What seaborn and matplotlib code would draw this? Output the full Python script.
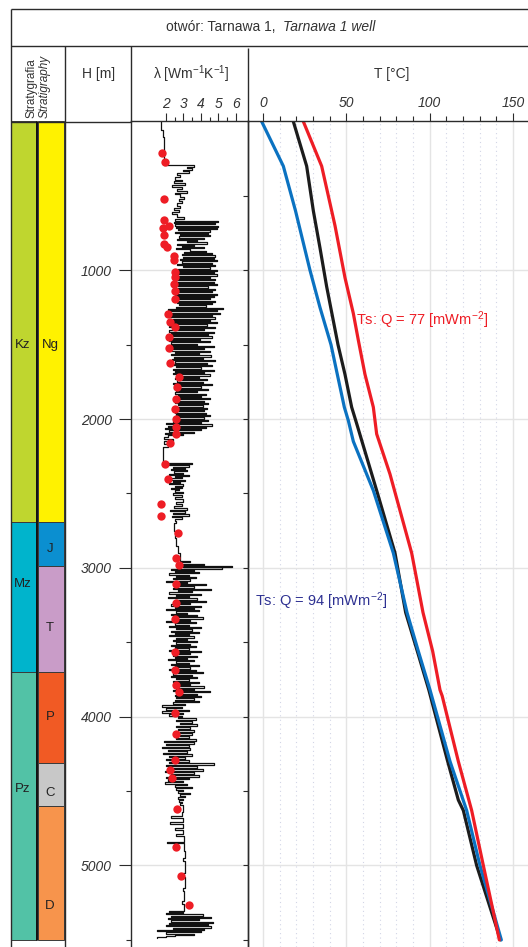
#!/usr/bin/env python3
"""Tarnawa 1 well: stratigraphy, thermal conductivity log and temperature profiles."""

import matplotlib

matplotlib.use("Agg")
import matplotlib.pyplot as plt
import seaborn as sns

# --- stratigraphy (depth, m) ---
era_names = ["Kz", "Mz", "Pz"]
era_top = [0, 2690, 3700]
era_base = [2690, 3700, 5500]
era_label_depth = [1500, 3105, 4485]

period_names = ["Ng", "J", "T", "P", "C", "D"]
period_top = [0, 2690, 2990, 3700, 4310, 4600]
period_base = [2690, 2990, 3700, 4310, 4600, 5500]
period_label_depth = [1500, 2870, 3405, 4005, 4510, 5270]

era_colors = ["#bfd62f", "#00b4cc", "#52c2a6"]
period_colors = ["#fff200", "#0b8fd0", "#c99cc8", "#f15a24", "#c8c8c8", "#f7944c"]

# --- thermal conductivity log, lambda [W/mK] vs depth [m] ---
log_depth = (
    [0, 60, 105, 295, 305, 315, 325, 335, 345, 360, 375, 390, 400, 415, 425, 440,
     455, 465, 478, 490, 505, 520, 535, 550, 565, 580, 595, 610, 625, 640, 655]
    + list(range(668, 2101, 8))
    + [2108, 2120, 2135, 2150, 2170, 2185, 2230, 2270]
    + list(range(2295, 2496, 8))
    + [2510, 2525, 2540, 2555, 2570, 2585, 2600, 2610, 2620, 2630, 2640, 2650, 2660,
       2670, 2685, 2700, 2750, 2800, 2850, 2900, 2940, 2955, 2963, 2971, 2979, 2985,
       2991, 2997]
    + list(range(3005, 3894, 8))
    + [3901, 3912, 3922, 3932, 3942, 3952, 3962, 3972, 3982, 3992]
    + list(range(4002, 4443, 10))
    + list(range(4452, 4593, 10))
    + [4605, 4640, 4670, 4680, 4710, 4718, 4750, 4760, 4790, 4800, 4840, 4848, 4900,
       4950, 4970, 5050, 5080, 5150, 5170, 5240, 5260]
    + list(range(5305, 5490, 8))
)
log_lam = [
    # 0-655
    1.73, 1.84, 1.88, 3.58, 3.2, 3.49, 3.0, 3.3, 2.63, 2.82, 2.54, 2.92, 2.44, 3.11,
    2.35, 2.9, 2.63, 3.2, 2.54, 2.82, 3.01, 2.73, 2.92, 2.63, 2.82, 2.44, 2.73, 2.35,
    2.63, 3.01, 2.5,
    # 668-860
    5.0, 2.45, 4.81, 2.5, 5.0, 2.6, 4.9, 2.7, 4.53, 2.54, 4.4, 2.8, 4.53, 2.73, 4.15,
    2.63, 3.77, 3.2, 4.34, 2.63, 3.6, 2.9, 4.2, 2.6, 3.4,
    # 868-996
    4.3, 3.01, 4.62, 2.9, 4.81, 3.0, 4.72, 2.82, 4.9, 2.9, 4.62, 2.63, 4.81, 3.0, 4.53,
    2.7, 4.9,
    # 1004-1244
    2.6, 4.72, 2.54, 4.9, 2.6, 4.53, 2.63, 4.81, 2.6, 4.72, 2.5, 4.9, 2.7, 4.4, 2.6,
    4.81, 2.73, 4.62, 2.6, 4.9, 2.54, 4.72, 2.7, 4.5, 2.6, 4.81, 2.63, 4.62, 2.73, 4.3,
    2.6,
    # 1252-1948
    5.29, 2.1, 4.91, 2.2, 5.1, 2.3, 4.62, 2.1, 4.81, 2.4,
    4.53, 2.2, 4.9, 2.3, 4.34, 2.16, 4.81, 2.4, 4.15, 2.2,
    4.72, 2.3, 4.4, 2.1, 4.62, 2.35, 3.96, 2.2, 4.53, 2.3,
    3.77, 2.16, 4.72, 2.4, 4.2, 2.2, 4.5, 2.54, 3.9, 2.3,
    4.6, 2.45, 4.1, 2.35, 4.81, 2.5, 4.34, 2.3, 4.62, 2.6,
    4.0, 2.4, 4.72, 2.54, 4.2, 2.4, 4.53, 2.6, 3.9, 2.5,
    4.34, 2.63, 4.1, 2.4, 4.62, 2.6, 4.0, 2.45, 4.4, 2.6,
    3.77, 2.5, 4.3, 2.7, 4.0, 2.5, 4.5, 2.6, 4.2, 2.54,
    4.4, 2.7, 4.1, 2.54, 4.34, 2.6, 4.2, 2.5,
    # 1956-2100
    4.3, 2.6, 4.53, 2.5, 4.2, 2.63, 4.4, 2.4, 4.0, 2.0, 4.62, 2.1, 4.3, 1.97, 4.0, 2.2,
    3.6, 1.97, 3.0,
    # 2108-2270
    2.1, 1.9, 2.4, 1.88, 2.1, 1.84, 1.86, 1.84,
    # 2295-2495
    3.49, 2.2, 3.3, 2.4, 3.11, 2.3, 3.2, 2.45, 3.0, 2.2,
    3.3, 2.5, 2.9, 2.3, 3.11, 2.4, 2.8, 2.16, 3.0, 2.5,
    2.9, 2.3, 2.73, 2.5, 3.0, 2.4,
    # 2510-2997
    2.9, 2.5, 3.0, 2.6, 2.9, 2.45, 3.2, 2.26, 3.1, 2.4, 3.3, 2.35, 2.9, 2.5, 2.6,
    2.45, 2.54, 2.6, 2.7, 2.8, 2.82,
    3.4, 2.7, 4.2, 2.9, 5.76, 3.0, 5.2,
    # 3005-3893
    2.3, 3.6, 2.5, 3.9, 2.2, 3.3, 2.6, 3.7, 2.4, 3.4,
    2.0, 3.2, 2.5, 4.3, 2.6, 3.6, 2.4, 4.6, 2.7, 3.5,
    2.2, 4.0, 2.6, 3.3, 2.1, 3.8, 2.5, 4.3, 2.7, 3.4,
    2.3, 4.0, 2.5, 3.6, 2.0, 3.9, 2.6, 3.2, 2.3, 3.8,
    2.6, 4.1, 2.4, 3.4, 2.0, 3.7, 2.5, 3.3, 2.2, 4.0,
    2.6, 3.5, 2.3, 3.9, 2.5, 3.3, 2.2, 3.6, 2.6, 3.2,
    2.4, 3.8, 2.6, 3.4, 2.3, 3.7, 2.5, 3.3, 2.2, 4.0,
    2.6, 3.4, 2.4, 3.8, 2.5, 3.2, 2.1, 3.6, 2.6, 3.3,
    2.3, 3.9, 2.5, 3.4, 2.2, 3.7, 2.6, 4.1, 2.4, 3.5,
    2.3, 3.8, 2.6, 3.3, 2.4, 3.9, 2.5, 3.4, 2.7, 4.2,
    2.6, 3.6, 2.4, 4.5, 2.7, 3.8, 2.5, 4.0, 2.6, 3.6,
    2.5, 3.9,
    # 3901-3992
    2.4, 3.1, 1.8, 2.9, 2.0, 3.3, 1.78, 3.0, 2.2, 2.9,
    # 4002-4442
    2.7, 3.7, 2.6, 3.5, 2.8, 3.77, 2.6, 3.4, 2.7, 3.6, 2.5, 3.5, 2.8, 3.3, 2.6,
    3.7, 1.9, 3.6, 2.0, 3.3, 1.78, 3.4, 2.1, 3.2, 1.85, 3.5, 2.2, 3.1, 2.0, 3.3,
    2.2, 4.72, 2.0, 3.8, 2.2, 4.1, 1.97, 3.6, 2.3, 3.9, 2.0, 3.3, 2.1, 3.0, 1.97,
    # 4452-4592
    3.2, 2.5, 3.5, 2.6, 3.0, 2.7, 3.4, 2.8, 3.1, 2.7, 3.0, 2.75, 2.9, 2.8, 2.95,
    # 4605-5260
    3.0, 2.9, 2.3, 3.0, 2.26, 3.0, 2.5, 3.0, 2.6, 3.05, 2.07, 3.05, 3.1, 2.95, 3.1,
    3.0, 3.1, 2.95, 3.05, 2.9, 3.05,
    # 5305-5489
    2.2, 3.0, 2.0, 4.1, 2.3, 4.6, 2.1, 3.9, 2.3, 4.7,
    2.2, 4.4, 2.0, 4.6, 2.4, 4.2, 1.5, 4.0, 2.0, 3.6,
    2.5, 2.0, 1.5, 1.5,
]

# laboratory measurements (red dots)
dot_depth = [213, 273, 520, 659, 699, 715, 760, 822, 845, 901, 934, 1013, 1046, 1091,
             1136, 1196, 1297, 1349, 1382, 1450, 1523, 1624, 1718, 1786, 1864, 1931,
             1998, 2054, 2099, 2162, 2301, 2401, 2569, 2652, 2764, 2932, 2982, 3107,
             3235, 3342, 3566, 3685, 3786, 3835, 3976, 4115, 4294, 4357, 4411, 4619,
             4877, 5072, 5264]
dot_lam = [1.78, 1.93, 1.88, 1.88, 2.16, 1.84, 1.91, 1.88, 2.07, 2.44, 2.48, 2.5, 2.5,
           2.44, 2.5, 2.5, 2.1, 2.26, 2.54, 2.2, 2.2, 2.26, 2.73, 2.64, 2.58, 2.54,
           2.58, 2.58, 2.58, 2.26, 1.93, 2.12, 1.72, 1.72, 2.67, 2.58, 2.73, 2.58,
           2.58, 2.5, 2.5, 2.5, 2.58, 2.73, 2.5, 2.58, 2.5, 2.26, 2.35, 2.64, 2.58,
           2.88, 3.3]

# --- temperature profiles, T [degC] vs depth [m] ---
black_depth = [0, 300, 600, 850, 1110, 1500, 1700, 1920, 2030, 2480, 2900, 3300, 3560,
               3820, 4300, 4560, 4630, 5000, 5500]
black_temp = [18.2, 26.2, 30.2, 34.2, 38.2, 45.0, 49.2, 53.2, 56.2, 68.2, 79.2, 85.6,
              92.6, 99.5, 110.8, 117.2, 120.2, 128.2, 142.5]

blue_depth = [0, 300, 600, 1000, 1250, 1500, 1700, 1920, 2010, 2150, 2480, 2900, 3300,
              3560, 3820, 4300, 4630, 5000, 5500]
blue_temp = [-0.8, 12.2, 19.5, 28.2, 34.2, 40.8, 44.6, 48.8, 51.2, 54.2, 66.2, 78.2,
             86.4, 93.2, 100.2, 112.2, 122.2, 130.2, 143.0]

red_depth = [0, 300, 700, 1050, 1290, 1470, 1700, 1920, 2100, 2370, 2900, 3300, 3560,
             3820, 3860, 4300, 4630, 5000, 5500]
red_temp = [24.2, 35.2, 43.2, 49.2, 54.2, 57.2, 61.2, 66.2, 68.2, 76.2, 89.2, 96.0,
            101.8, 106.2, 107.5, 117.2, 125.2, 132.2, 141.8]

# ticks
depth_ticks = [1000, 2000, 3000, 4000, 5000]
depth_minor = [1500, 2500, 3500, 4500, 5500]
lam_ticks = [2, 3, 4, 5, 6]
lam_minor = [2.5, 3.5, 4.5, 5.5]
temp_ticks = [0, 50, 100, 150]
temp_minor = [10, 20, 30, 40, 60, 70, 80, 90, 110, 120, 130, 140]

# --- layout in pixels ---
W, H = 528, 947
Y_TOP = 121.5
PX_PER_M = 0.1488
D_BOT = (H - Y_TOP) / PX_PER_M
EDGE = "#2b2b2b"
TXT = "#333333"

sns.set_theme(style="white")
plt.rcParams["font.family"] = ["Liberation Sans", "DejaVu Sans"]
plt.rcParams["mathtext.fontset"] = "custom"
plt.rcParams["mathtext.rm"] = "Liberation Sans"
plt.rcParams["mathtext.it"] = "Liberation Sans:italic"
plt.rcParams["mathtext.bf"] = "Liberation Sans:bold"


def column(x0, x1):
    return [x0 / W, 0, (x1 - x0) / W, (H - Y_TOP) / H]


fig = plt.figure(figsize=(W / 100, H / 100), dpi=100)
fig.patch.set_facecolor("white")

ax_s = fig.add_axes(column(10, 65))
ax_l = fig.add_axes(column(130.5, 248))
ax_t = fig.add_axes(column(248, 528))
for ax in (ax_s, ax_l, ax_t):
    ax.set_facecolor("none")
    ax.set_ylim(D_BOT, 0)

# stratigraphy column
ax_s.set_xlim(10, 65)
ax_s.bar(x=[11] * len(era_names), height=[b - t for t, b in zip(era_top, era_base)],
         bottom=era_top, width=25, align="edge", color=era_colors,
         edgecolor="#3a3a3a", linewidth=0.7)
ax_s.bar(x=[38] * len(period_names),
         height=[b - t for t, b in zip(period_top, period_base)],
         bottom=period_top, width=25.5, align="edge", color=period_colors,
         edgecolor="#3a3a3a", linewidth=0.7)
for name, d in zip(era_names, era_label_depth):
    ax_s.text(23, d, name, ha="center", va="center", fontsize=9.5, color="#222222")
for name, d in zip(period_names, period_label_depth):
    ax_s.text(50, d, name, ha="center", va="center", fontsize=9.5, color="#222222")
ax_s.axis("off")

# conductivity log
sns.lineplot(x=log_lam, y=log_depth, orient="y", sort=False, estimator=None,
             drawstyle="steps-pre", color="#111111", linewidth=0.9, ax=ax_l)
sns.scatterplot(x=dot_lam, y=dot_depth, color="#ee1d25", marker="o", s=36,
                linewidth=0, zorder=4, ax=ax_l)
ax_l.set_xlim(-0.02, 6.69)
ax_l.set_ylim(D_BOT, 0)
ax_l.set_xlabel("")
ax_l.set_ylabel("")
ax_l.xaxis.tick_top()
ax_l.set_xticks(lam_ticks, labels=[str(v) for v in lam_ticks], fontstyle="italic",
                fontsize=10, color=TXT)
ax_l.set_xticks(lam_minor, minor=True)
ax_l.set_yticks(depth_ticks, labels=[str(v) for v in depth_ticks], fontstyle="italic",
                fontsize=10, color=TXT)
ax_l.set_yticks(depth_minor, minor=True)
ax_l.tick_params(axis="x", which="major", length=5.5, width=0.8, pad=2, color=EDGE,
                 top=True, bottom=False)
ax_l.tick_params(axis="x", which="minor", length=3, width=0.8, color=EDGE,
                 top=True, bottom=False)
ax_l.tick_params(axis="y", which="major", length=8.6, width=0.8, pad=5, color=EDGE,
                 left=True)
ax_l.tick_params(axis="y", which="minor", length=3.6, width=0.8, color=EDGE, left=True)
ax_l.grid(axis="y", which="major", color="#e2e2e2", linewidth=1)
ax_l.grid(axis="x", visible=False)
ax_l.set_axisbelow(True)
for side, spine in ax_l.spines.items():
    spine.set_visible(side != "bottom")
    spine.set_color(EDGE)
    spine.set_linewidth(1)

# temperature profiles
for depth, temp, color in [(black_depth, black_temp, "#1c1c1c"),
                           (blue_depth, blue_temp, "#0b72c1"),
                           (red_depth, red_temp, "#ee1d25")]:
    sns.lineplot(x=temp, y=depth, orient="y", sort=False, estimator=None,
                 color=color, linewidth=2.3, ax=ax_t)
ax_t.set_xlim(-9, 159)
ax_t.set_ylim(D_BOT, 0)
ax_t.set_xlabel("")
ax_t.set_ylabel("")
ax_t.xaxis.tick_top()
ax_t.set_xticks(temp_ticks, labels=[str(v) for v in temp_ticks], fontstyle="italic",
                fontsize=10, color=TXT)
ax_t.set_xticks(temp_minor, minor=True)
ax_t.set_yticks(depth_ticks, labels=[])
ax_t.set_yticks(depth_minor + [500], minor=True)
ax_t.tick_params(axis="x", which="major", length=6, width=0.8, pad=2, color=EDGE,
                 top=True, bottom=False)
ax_t.tick_params(axis="x", which="minor", length=3.5, width=0.8, color=EDGE,
                 top=True, bottom=False)
ax_t.tick_params(axis="y", which="both", length=3.8, width=0.8, color=EDGE, left=True)
ax_t.grid(axis="x", which="major", color="#e4e4e4", linewidth=1)
ax_t.grid(axis="x", which="minor", color="#d2d5e6", linewidth=0.8, linestyle=(0, (1, 3)))
ax_t.grid(axis="y", which="major", color="#e4e4e4", linewidth=1)
ax_t.set_axisbelow(True)
for side, spine in ax_t.spines.items():
    spine.set_visible(side in ("top", "left"))
    spine.set_color(EDGE)
    spine.set_linewidth(1)

ax_t.text(55.5, 1334, r"Ts: Q = 77 [mWm$^{-2}$]", color="#ee1d25", fontsize=10.5,
          ha="left", va="center")
ax_t.text(-5, 3222, r"Ts: Q = 94 [mWm$^{-2}$]", color="#2e3192", fontsize=10.5,
          ha="left", va="center")

# frame and header in pixel coordinates
ov = fig.add_axes([0, 0, 1, 1], zorder=10)
ov.set_xlim(0, W)
ov.set_ylim(H, 0)
ov.axis("off")
ov.patch.set_alpha(0)
frame_lines = [
    ((10.5, W), (8.5, 8.5)),
    ((10.5, 10.5), (8.5, H)),
    ((10.5, W), (45.5, 45.5)),
    ((10.5, 130.5), (122, 122)),
    ((64.5, 64.5), (45.5, H)),
    ((130.5, 130.5), (45.5, 122)),
    ((248, 248), (48, 122)),
]
for xs, ys in frame_lines:
    ov.plot(xs, ys, color=EDGE, linewidth=1, solid_capstyle="butt")
ov.plot((37, 37), (122, Y_TOP + 5500 * PX_PER_M), color="#111111", linewidth=1.4)

ov.text(166, 27, "otwór: Tarnawa 1,", fontsize=10, color=TXT, ha="left", va="center")
ov.text(283, 27, "Tarnawa 1 well", fontsize=10, color=TXT, ha="left", va="center",
        fontstyle="italic")
ov.text(99, 74, "H [m]", fontsize=10, color=TXT, ha="center", va="center")
ov.text(191, 74, r"λ [Wm$^{-1}$K$^{-1}$]", fontsize=10, color=TXT, ha="center",
        va="center")
ov.text(392, 74, "T [°C]", fontsize=10, color=TXT, ha="center", va="center")
ov.text(32, 118, "Stratygrafia", fontsize=8.5, color=TXT, rotation=90, ha="center",
        va="bottom")
ov.text(45, 118, "Stratigraphy", fontsize=8.5, color=TXT, rotation=90, ha="center",
        va="bottom", fontstyle="italic")

fig.savefig("out.png", dpi=100)
plt.close(fig)
